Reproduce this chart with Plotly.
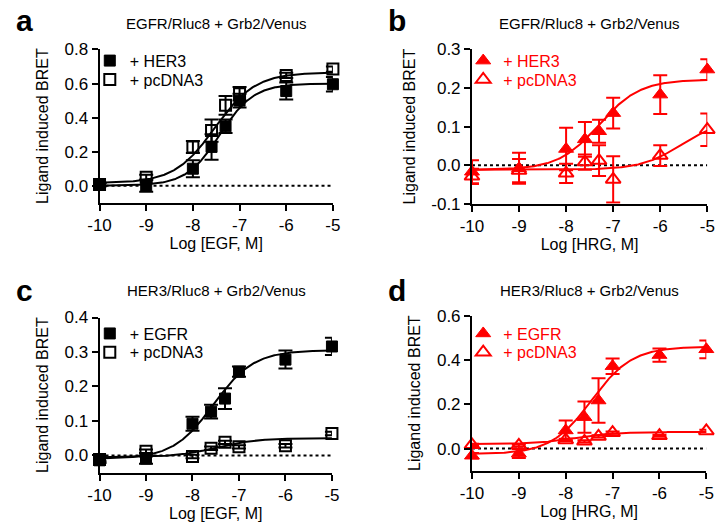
import numpy as np
import plotly.graph_objects as go

# ---------------- data ----------------
log_conc = [-10, -9, -8, -7.6, -7.3, -7, -6, -5]
x_tick_vals = [-10, -9, -8, -7, -6, -5]
x_tick_text = ["-10", "-9", "-8", "-7", "-6", "-5"]

# panel a: EGFR/Rluc8 + Grb2/Venus, EGF stimulation
a_her3 = [0.005, 0.0, 0.10, 0.228, 0.349, 0.50, 0.556, 0.596]
a_her3_err = [0.01, 0.035, 0.05, 0.075, 0.04, 0.04, 0.05, 0.043]
a_pcdna = [0.008, 0.05, 0.227, 0.324, 0.472, 0.54, 0.648, 0.685]
a_pcdna_err = [0.01, 0.015, 0.035, 0.065, 0.055, 0.04, 0.015, 0.015]
a_her3_fit = [0.0, 0.60, -7.42, 1.2]      # bottom, top, logEC50, hill
a_pcdna_fit = [0.015, 0.665, -7.53, 1.0]

# panel b: EGFR/Rluc8 + Grb2/Venus, HRG stimulation
b_her3 = [-0.017, -0.008, 0.042, 0.067, 0.088, 0.135, 0.183, 0.248]
b_her3_err = [0.03, 0.04, 0.055, 0.045, 0.03, 0.04, 0.05, 0.027]
b_pcdna = [-0.029, -0.014, -0.021, 0.008, 0.012, -0.037, 0.025, 0.092]
b_pcdna_err = [0.02, 0.03, 0.025, 0.02, 0.04, 0.06, 0.027, 0.042]
b_her3_fit = [-0.012, 0.222, -7.3, 1.0]
b_pcdna_fit = [-0.012, 0.118, -5.55, 1.0]

# panel c: HER3/Rluc8 + Grb2/Venus, EGF stimulation
c_egfr = [-0.014, -0.009, 0.092, 0.127, 0.165, 0.243, 0.278, 0.316]
c_egfr_err = [0.008, 0.015, 0.02, 0.02, 0.03, 0.015, 0.026, 0.025]
c_pcdna = [-0.012, 0.012, -0.003, 0.021, 0.038, 0.025, 0.028, 0.064]
c_pcdna_err = [0.005, 0.005, 0.005, 0.005, 0.005, 0.005, 0.005, 0.005]
c_egfr_fit = [-0.01, 0.305, -7.55, 1.0]
c_pcdna_fit = [-0.005, 0.05, -7.5, 1.0]

# panel d: HER3/Rluc8 + Grb2/Venus, HRG stimulation
d_egfr = [-0.032, -0.022, 0.082, 0.142, 0.217, 0.372, 0.422, 0.448]
d_egfr_err = [0.012, 0.02, 0.045, 0.07, 0.1, 0.035, 0.03, 0.04]
d_pcdna = [0.017, 0.015, 0.039, 0.033, 0.055, 0.072, 0.058, 0.08]
d_pcdna_err = [0.005, 0.005, 0.005, 0.005, 0.005, 0.005, 0.005, 0.005]
d_egfr_fit = [-0.025, 0.46, -7.45, 1.0]
d_pcdna_fit = [0.02, 0.075, -7.8, 1.0]

RED = "#FF0000"
BLACK = "#000000"
FONT = "Liberation Sans, Arial, Helvetica, sans-serif"

x_curve = np.linspace(-10, -5, 300)


def logistic(x, p):
    bottom, top, ec50, hill = p
    return bottom + (top - bottom) / (1 + 10 ** (hill * (ec50 - x)))


W, H = 726, 529


def px_x(v):
    return v / W


def px_y(v):
    return 1 - v / H


fig = go.Figure()

panels = [
    dict(ax="", lg=("legend", "legend2"), color=BLACK, sym="square", lx=80, ly=(36, 55.5),
         f=(a_her3, a_her3_err, a_her3_fit, "+ HER3"),
         o=(a_pcdna, a_pcdna_err, a_pcdna_fit, "+ pcDNA3")),
    dict(ax="2", lg=("legend3", "legend4"), color=RED, sym="triangle-up", lx=464, ly=(36, 55.5),
         f=(b_her3, b_her3_err, b_her3_fit, "+ HER3"),
         o=(b_pcdna, b_pcdna_err, b_pcdna_fit, "+ pcDNA3")),
    dict(ax="3", lg=("legend5", "legend6"), color=BLACK, sym="square", lx=80, ly=(319, 338.5),
         f=(c_egfr, c_egfr_err, c_egfr_fit, "+ EGFR"),
         o=(c_pcdna, c_pcdna_err, c_pcdna_fit, "+ pcDNA3")),
    dict(ax="4", lg=("legend7", "legend8"), color=RED, sym="triangle-up", lx=464, ly=(319, 338.5),
         f=(d_egfr, d_egfr_err, d_egfr_fit, "+ EGFR"),
         o=(d_pcdna, d_pcdna_err, d_pcdna_fit, "+ pcDNA3")),
]

layout = dict(width=W, height=H, margin=dict(l=0, r=0, t=0, b=0),
              plot_bgcolor="white", paper_bgcolor="white", font=dict(family=FONT, color=BLACK))

for p in panels:
    xa = "x" + p["ax"]
    ya = "y" + p["ax"]
    col = p["color"]
    msize = 11 if p["sym"] == "square" else 13
    # zero reference line
    fig.add_trace(go.Scatter(x=[x_tick_vals[0], x_tick_vals[-1]], y=[0, 0], mode="lines",
                             line=dict(color=BLACK, width=2, dash="dot"),
                             xaxis=xa, yaxis=ya, showlegend=False, hoverinfo="skip"))
    # fitted curves
    for ser in (p["f"], p["o"]):
        fig.add_trace(go.Scatter(x=x_curve, y=logistic(x_curve, ser[2]), mode="lines",
                                 line=dict(color=col, width=2), xaxis=xa, yaxis=ya,
                                 showlegend=False, hoverinfo="skip"))
    # open markers
    vals, err, _, name = p["o"]
    fig.add_trace(go.Scatter(x=log_conc, y=vals, mode="markers", name=name,
                             marker=dict(symbol=p["sym"] + "-open", size=msize, color=col,
                                         line=dict(color=col, width=2)),
                             error_y=dict(type="data", array=err, color=col, thickness=2, width=7),
                             xaxis=xa, yaxis=ya, legend=p["lg"][1], cliponaxis=False))
    # filled markers
    vals, err, _, name = p["f"]
    fig.add_trace(go.Scatter(x=log_conc, y=vals, mode="markers", name=name,
                             marker=dict(symbol=p["sym"], size=msize, color=col,
                                         line=dict(color=col, width=1)),
                             error_y=dict(type="data", array=err, color=col, thickness=2, width=7),
                             xaxis=xa, yaxis=ya, legend=p["lg"][0], cliponaxis=False))
    for lname, ly in zip(p["lg"], p["ly"]):
        layout[lname] = dict(x=px_x(p["lx"]), y=px_y(ly), xanchor="left", yanchor="top",
                             bgcolor="rgba(0,0,0,0)", font=dict(family=FONT, size=16, color=col),
                             itemwidth=30)

axis_common = dict(showgrid=False, zeroline=False, showline=True, linecolor=BLACK,
                   linewidth=2, ticks="outside", ticklen=6, tickwidth=2, tickcolor=BLACK,
                   tickfont=dict(family=FONT, size=17, color=BLACK))

# domains (pixels)
geo = {
    "": dict(x=(90, 330), y=(42, 201), yr=[-0.1, 0.8], yt=[0, 0.2, 0.4, 0.6, 0.8], xt="Log [EGF, M]"),
    "2": dict(x=(473, 715), y=(42, 202), yr=[-0.1, 0.3], yt=[-0.1, 0, 0.1, 0.2, 0.3], xt="Log [HRG, M]"),
    "3": dict(x=(90, 329), y=(320, 481), yr=[-0.05, 0.4], yt=[0, 0.1, 0.2, 0.3, 0.4], xt="Log [EGF, M]"),
    "4": dict(x=(473, 714), y=(318, 479), yr=[-0.1, 0.6], yt=[0, 0.2, 0.4, 0.6], xt="Log [HRG, M]"),
}

for k, g in geo.items():
    layout["xaxis" + k] = dict(axis_common, domain=[px_x(g["x"][0]), px_x(g["x"][1])],
                               range=[x_tick_vals[0], x_tick_vals[-1]], tickvals=x_tick_vals,
                               ticktext=x_tick_text, anchor="y" + k,
                               title=dict(text=g["xt"], font=dict(family=FONT, size=16), standoff=1))
    layout["yaxis" + k] = dict(axis_common, domain=[px_y(g["y"][1]), px_y(g["y"][0])],
                               range=g["yr"], tickvals=g["yt"],
                               ticktext=["%.1f" % v for v in g["yt"]],
                               anchor="x" + k,
                               title=dict(text="Ligand induced BRET", font=dict(family=FONT, size=16),
                                          standoff=12))

# (letter, title, letter x, letter y, title centre x, title centre y) in pixels
titles = [("a", "EGFR/Rluc8 + Grb2/Venus", 2, 12, 210, 15),
          ("b", "EGFR/Rluc8 + Grb2/Venus", 385, 12, 594, 15),
          ("c", "HER3/Rluc8 + Grb2/Venus", 2, 292, 210, 292),
          ("d", "HER3/Rluc8 + Grb2/Venus", 385, 292, 594, 292)]
ann = []
for letter, t, lx, ly, tx, ty in titles:
    ann.append(dict(text="<b>%s</b>" % letter, x=px_x(lx), y=px_y(ly), xref="paper", yref="paper",
                    xanchor="left", yanchor="middle", showarrow=False,
                    font=dict(family=FONT, size=30, color=BLACK)))
    ann.append(dict(text=t, x=px_x(tx), y=px_y(ty), xref="paper", yref="paper",
                    xanchor="center", yanchor="middle", showarrow=False,
                    font=dict(family=FONT, size=15, color=BLACK)))
layout["annotations"] = ann

fig.update_layout(**layout)
fig.write_html("out.html", config={"displayModeBar": False},
               post_script="document.body.style.margin='0';")
